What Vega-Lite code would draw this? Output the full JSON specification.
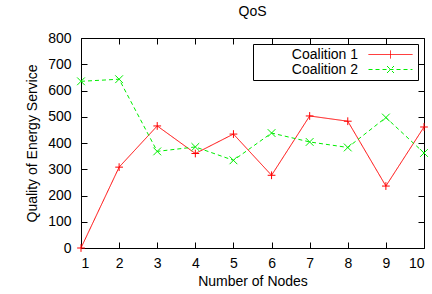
{
  "$schema": "https://vega.github.io/schema/vega-lite/v6.json",
  "autosize": "none",
  "width": 343,
  "height": 210,
  "padding": {"left": 81, "top": 38, "right": 8, "bottom": 46},
  "background": "white",
  "title": {"text": "QoS", "fontSize": 14, "font": "Liberation Sans", "fontWeight": "normal", "offset": 12, "color": "black"},
  "data": {"values": [
    {"nodes": 1, "qos": 0, "series": "Coalition 1"},
    {"nodes": 2, "qos": 308, "series": "Coalition 1"},
    {"nodes": 3, "qos": 465, "series": "Coalition 1"},
    {"nodes": 4, "qos": 360, "series": "Coalition 1"},
    {"nodes": 5, "qos": 434, "series": "Coalition 1"},
    {"nodes": 6, "qos": 277, "series": "Coalition 1"},
    {"nodes": 7, "qos": 503, "series": "Coalition 1"},
    {"nodes": 8, "qos": 483, "series": "Coalition 1"},
    {"nodes": 9, "qos": 236, "series": "Coalition 1"},
    {"nodes": 10, "qos": 461, "series": "Coalition 1"},
    {"nodes": 1, "qos": 635, "series": "Coalition 2"},
    {"nodes": 2, "qos": 643, "series": "Coalition 2"},
    {"nodes": 3, "qos": 368, "series": "Coalition 2"},
    {"nodes": 4, "qos": 385, "series": "Coalition 2"},
    {"nodes": 5, "qos": 334, "series": "Coalition 2"},
    {"nodes": 6, "qos": 438, "series": "Coalition 2"},
    {"nodes": 7, "qos": 404, "series": "Coalition 2"},
    {"nodes": 8, "qos": 383, "series": "Coalition 2"},
    {"nodes": 9, "qos": 497, "series": "Coalition 2"},
    {"nodes": 10, "qos": 362, "series": "Coalition 2"}
  ]},
  "layer": [
    {
      "mark": {"type": "line", "strokeWidth": 1},
      "encoding": {
        "x": {"field": "nodes", "type": "quantitative",
              "scale": {"domain": [1, 10], "nice": false, "zero": false},
              "axis": {"title": "Number of Nodes", "values": [1,2,3,4,5,6,7,8,9,10], "offset": -6, "tickSize": 6, "labelPadding": 8, "titlePadding": 4}},
        "y": {"field": "qos", "type": "quantitative",
              "scale": {"domain": [0, 800], "nice": false},
              "axis": {"title": "Quality of Energy Service", "values": [0,100,200,300,400,500,600,700,800], "offset": -6, "tickSize": 6, "labelPadding": 10, "titlePadding": 8}},
        "color": {"field": "series", "type": "nominal",
                  "scale": {"domain": ["Coalition 1", "Coalition 2"], "range": ["#ff0000", "#00ee00"]},
                  "legend": {"title": null,
                             "encode": {"symbols": {"update": {"shape": {"signal": "datum.value === 'Coalition 1' ? 'M-3.14,0H3.14M0,-0.57V0.57' : 'M-3.14,0H3.14M-0.5,-0.5L0.5,0.5M-0.5,0.5L0.5,-0.5'"}}}}}},
        "strokeDash": {"field": "series", "type": "nominal",
                       "scale": {"domain": ["Coalition 1", "Coalition 2"], "range": [[1, 0], [4, 3]]},
                       "legend": {"title": null}}
      }
    },
    {
      "mark": {"type": "point", "filled": false, "strokeWidth": 1, "size": 60, "opacity": 1},
      "encoding": {
        "x": {"field": "nodes", "type": "quantitative",
              "axis": {"orient": "top", "title": null, "labels": false, "values": [1,2,3,4,5,6,7,8,9,10], "offset": -6, "tickSize": 6}},
        "y": {"field": "qos", "type": "quantitative",
              "axis": {"orient": "right", "title": null, "labels": false, "values": [0,100,200,300,400,500,600,700,800], "offset": -6, "tickSize": 6}},
        "stroke": {"condition": {"test": "datum.series === 'Coalition 1'", "value": "#ff0000"}, "value": "#00ee00"},
        "shape": {"condition": {"test": "datum.series === 'Coalition 1'", "value": "M-1,0H1M0,-1V1"}, "value": "M-1,-1L1,1M-1,1L1,-1"}
      }
    }
  ],
  "resolve": {"axis": {"x": "independent", "y": "independent"}},
  "config": {
    "font": "Liberation Sans",
    "view": {"stroke": "black", "strokeWidth": 1},
    "axis": {"grid": false, "domain": false, "tickColor": "black", "tickWidth": 1,
             "labelFont": "Liberation Sans", "labelFontSize": 14, "labelColor": "black",
             "titleFont": "Liberation Sans", "titleFontSize": 14, "titleFontWeight": "normal", "titleColor": "black"},
    "legend": {"orient": "top-right", "offset": 6, "fillColor": "white", "strokeColor": "black", "padding": 3,
               "labelFont": "Liberation Sans", "labelFontSize": 14, "labelColor": "black",
               "labelAlign": "right", "labelOffset": -40, "symbolOffset": 127,
               "symbolSize": 196, "symbolStrokeWidth": 1, "rowPadding": 0, "labelLimit": 200}
  }
}
